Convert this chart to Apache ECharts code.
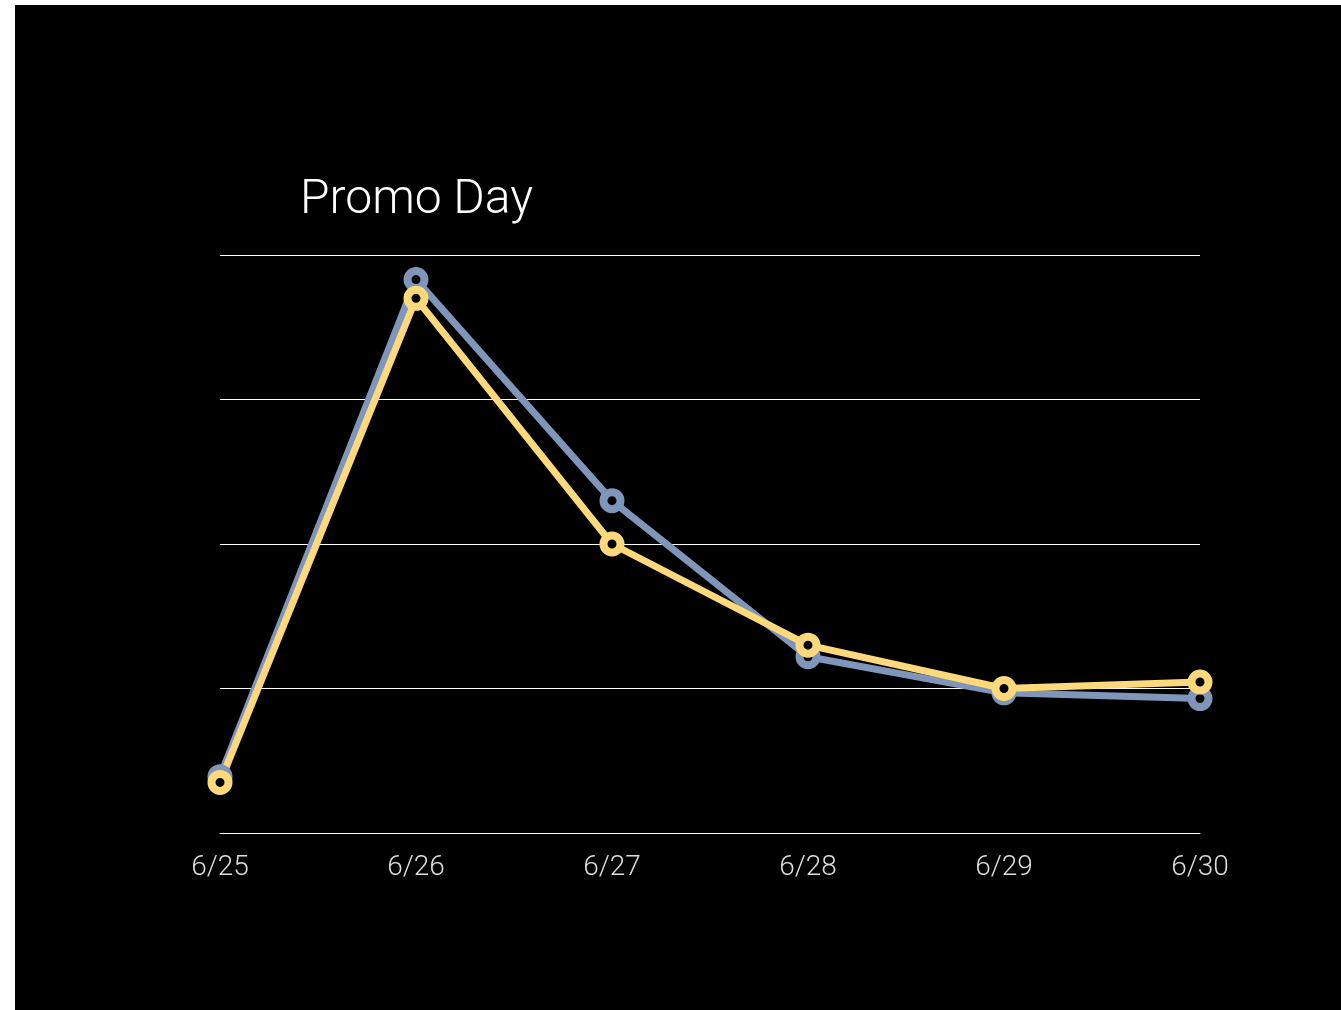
<!DOCTYPE html>
<html>
<head>
<meta charset="utf-8">
<script src="https://cdn.jsdelivr.net/npm/echarts@6/dist/echarts.min.js"></script>
<style>
html,body{margin:0;padding:0;background:#fff;width:1341px;height:1010px;overflow:hidden;}
#chart{position:absolute;left:15px;top:5px;width:1326px;height:1005px;background:#000;}
</style>
</head>
<body>
<div id="chart"></div>
<script>
const categories = ['6/25','6/26','6/27','6/28','6/29','6/30'];
const blueValues = [0.39, 3.83, 2.30, 1.22, 0.97, 0.93];
const yellowValues = [0.35, 3.70, 2.00, 1.30, 1.00, 1.045];
const titleText = 'Promo Day';

const chart = echarts.init(document.getElementById('chart'), null, {renderer:'canvas'});
const font = 'Roboto, "Helvetica Neue", Helvetica, Arial, sans-serif';
function series(name, data, color) {
  return {
    name, type:'line', data,
    symbol:'circle', symbolSize:17,
    lineStyle:{color, width:7},
    itemStyle:{color:'#000', borderColor:color, borderWidth:8},
    emphasis:{disabled:true},
    animation:false
  };
}
chart.setOption({
  backgroundColor:'#000',
  animation:false,
  title:{text:titleText, left:280, top:167,
    textStyle:{color:'#fff', fontSize:48, fontWeight:300, fontFamily:font}},
  grid:{left:205, right:141, top:250, bottom:177},
  xAxis:{type:'category', data:categories, boundaryGap:false,
    axisLine:{lineStyle:{color:'#fff', width:1}},
    axisTick:{show:false},
    axisLabel:{color:'#ddd', fontSize:28, fontWeight:300, fontFamily:font, margin:21}},
  yAxis:{type:'value', min:0, max:4, interval:1,
    axisLabel:{show:false}, axisLine:{show:false}, axisTick:{show:false},
    splitLine:{lineStyle:{color:'#fff', width:1}}},
  series:[series('blue', blueValues, '#7f95b9'), series('yellow', yellowValues, '#fdd97c')]
});
</script>
</body>
</html>
